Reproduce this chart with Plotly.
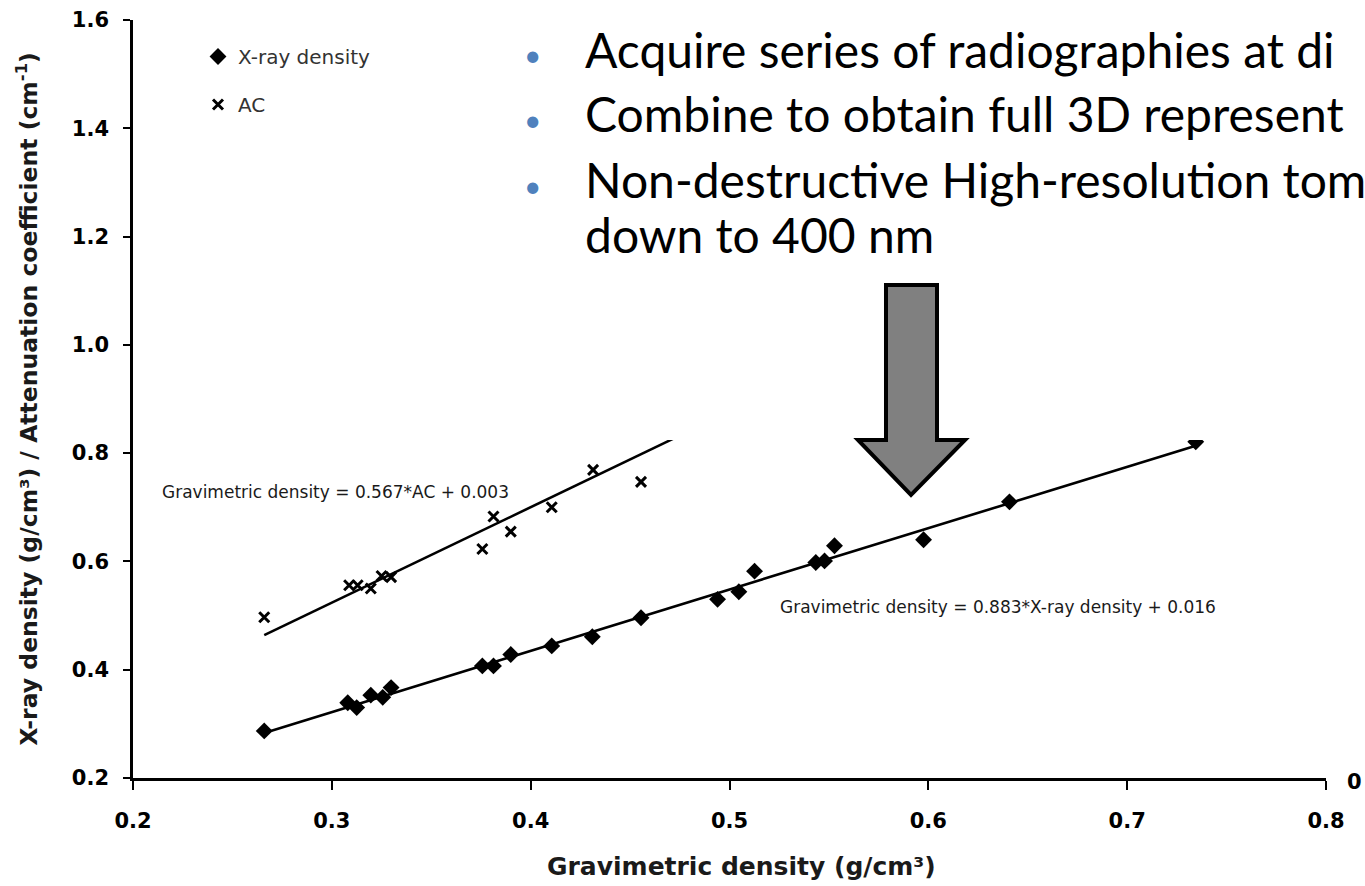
import plotly.graph_objects as go

# ---------------- data ----------------
grav_xray = [0.266, 0.308, 0.3125, 0.3196, 0.3256, 0.3298, 0.3757, 0.3813, 0.390, 0.4106,
             0.431, 0.4555, 0.494, 0.5047, 0.5126, 0.5434, 0.5478, 0.5528, 0.5976, 0.6408, 0.7345]
xray_density = [0.287, 0.339, 0.330, 0.353, 0.349, 0.367, 0.407, 0.407, 0.428, 0.444,
                0.461, 0.496, 0.530, 0.544, 0.582, 0.598, 0.601, 0.629, 0.640, 0.710, 0.821]
grav_ac = [0.266, 0.3087, 0.313, 0.3196, 0.325, 0.3298, 0.3757, 0.3813, 0.390, 0.4106, 0.4314, 0.4555]
ac_values = [0.497, 0.556, 0.556, 0.550, 0.573, 0.571, 0.623, 0.683, 0.655, 0.700, 0.769, 0.747]

# fits: Gravimetric = slope * value + intercept
fit_xray = (0.883, 0.016)
fit_ac = (0.567, 0.003)

x_ticks = [0.2, 0.3, 0.4, 0.5, 0.6, 0.7, 0.8]
y_ticks = [0.2, 0.4, 0.6, 0.8, 1.0, 1.2, 1.4, 1.6]

# slide text (visible part, cut by the picture's right edge in the reference)
bullets = ["Acquire series of radiographies at di",
           "Combine to obtain full 3D represent",
           "Non-destructive High-resolution tom"]
bullet_cont = "down to 400 nm"

# ---------------- layout geometry ----------------
W, H = 1365, 886
L, R, T, B = 133, 39, 20, 108
PW, PH = W - L - R, H - T - B


def px(x):
    return (x - L) / PW


def py(y):
    return (H - B - y) / PH


AX_FONT = "DejaVu Sans, Liberation Sans, Arial, sans-serif"
SLIDE_FONT = "Lato, Open Sans, sans-serif"

fit_x = [min(grav_xray), max(grav_xray)]

fig = go.Figure()
fig.add_trace(go.Scatter(
    x=fit_x, y=[(g - fit_xray[1]) / fit_xray[0] for g in fit_x],
    mode="lines", line=dict(color="black", width=2.6), showlegend=False, hoverinfo="skip"))
fig.add_trace(go.Scatter(
    x=fit_x, y=[(g - fit_ac[1]) / fit_ac[0] for g in fit_x],
    mode="lines", line=dict(color="black", width=2.6), showlegend=False, hoverinfo="skip"))
fig.add_trace(go.Scatter(
    x=grav_xray, y=xray_density, mode="markers", name="X-ray density",
    legendgroup="a",
    marker=dict(symbol="diamond", size=13, color="black")))
fig.add_trace(go.Scatter(
    x=grav_ac, y=ac_values, mode="markers", name="AC",
    legendgroup="b",
    marker=dict(symbol="x-thin", size=10, color="black",
                line=dict(color="black", width=3))))

shapes = []
# white text box of the slide covering the upper part of the chart
shapes.append(dict(type="rect", xref="paper", yref="paper",
                   x0=px(300), x1=px(W + 5), y0=py(440), y1=py(130),
                   fillcolor="white", line=dict(width=0), layer="above"))
# grey down arrow
arrow_pts = [(886, 285), (937, 285), (937, 440), (965, 440), (911, 495),
             (858, 440), (886, 440)]
path = "M " + " L ".join(f"{px(a):.5f},{py(b):.5f}" for a, b in arrow_pts) + " Z"
shapes.append(dict(type="path", xref="paper", yref="paper", path=path,
                   fillcolor="#808080", line=dict(color="black", width=4), layer="above"))

annotations = []
annotations.append(dict(xref="paper", yref="paper", x=px(160), y=py(492),
                        text="Gravimetric density = 0.567*AC + 0.003", showarrow=False,
                        xanchor="left", yanchor="middle",
                        font=dict(family=AX_FONT, size=17, color="#1a1a1a")))
annotations.append(dict(xref="paper", yref="paper", x=px(778), y=py(607),
                        text="Gravimetric density = 0.883*X-ray density + 0.016", showarrow=False,
                        xanchor="left", yanchor="middle",
                        font=dict(family=AX_FONT, size=17, color="#1a1a1a")))
annotations.append(dict(xref="paper", yref="paper", x=px(1354), y=py(782),
                        text="0", showarrow=False, xanchor="center", yanchor="middle",
                        font=dict(family=AX_FONT, size=21, color="black", weight="bold")))
annotations.append(dict(xref="paper", yref="paper", x=px(741), y=py(866),
                        text="Gravimetric density (g/cm³)", showarrow=False,
                        xanchor="center", yanchor="middle",
                        font=dict(family=AX_FONT, size=25, color="#1a1a1a", weight="bold")))

line_y = [52, 117, 183]
for txt, yy in zip(bullets, line_y):
    annotations.append(dict(xref="paper", yref="paper", x=px(532), y=py(yy + 2),
                            text="•", showarrow=False, xanchor="center", yanchor="middle",
                            font=dict(family=SLIDE_FONT, size=30, color="#4F81BD")))
    annotations.append(dict(xref="paper", yref="paper", x=px(583), y=py(yy - 3),
                            text=txt, showarrow=False, xanchor="left", yanchor="middle",
                            font=dict(family=SLIDE_FONT, size=48, color="black")))
annotations.append(dict(xref="paper", yref="paper", x=px(583), y=py(235),
                        text=bullet_cont, showarrow=False, xanchor="left", yanchor="middle",
                        font=dict(family=SLIDE_FONT, size=48, color="black")))

fig.update_layout(
    width=W, height=H,
    margin=dict(l=L, r=R, t=T, b=B, pad=0),
    paper_bgcolor="white", plot_bgcolor="white",
    shapes=shapes, annotations=annotations,
    showlegend=True,
    legend=dict(x=px(198), y=py(37), xanchor="left", yanchor="top",
                bgcolor="rgba(0,0,0,0)", tracegroupgap=19,
                font=dict(family=AX_FONT, size=20, color="#333333")),
    xaxis=dict(range=[0.2, 0.8], tickvals=x_ticks, ticktext=[f"{v:.1f}" for v in x_ticks],
               automargin=False,
               showgrid=False, zeroline=False, showline=True, linecolor="black", linewidth=3,
               ticks="outside", ticklen=9, tickwidth=2, tickcolor="black",
               ticklabelstandoff=13,
               tickfont=dict(family=AX_FONT, size=21, color="black", weight="bold")),
    yaxis=dict(range=[0.2, 1.6], tickvals=y_ticks, ticktext=[f"{v:.1f}" for v in y_ticks],
               automargin=False,
               showgrid=False, zeroline=False, showline=True, linecolor="black", linewidth=2.5,
               ticks="outside", ticklen=7, tickwidth=2, tickcolor="black",
               ticklabelstandoff=10,
               tickfont=dict(family=AX_FONT, size=21, color="black", weight="bold"),
               title=dict(text="X-ray density (g/cm³) / Attenuation coefficient (cm<sup>-1</sup>)",
                          standoff=28,
                          font=dict(family=AX_FONT, size=23.5, color="#1a1a1a", weight="bold"))),
)

fig.write_html("out.html")
